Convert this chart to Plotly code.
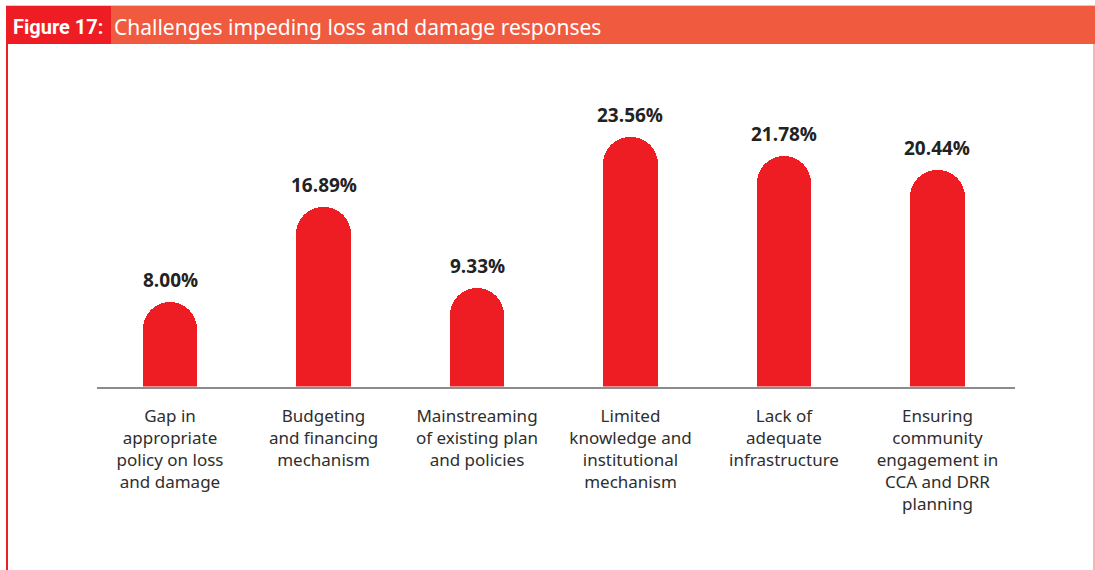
import plotly.graph_objects as go

# Challenges impeding loss and damage responses (share of responses, %)
categories = [
    "Gap in<br>appropriate<br>policy on loss<br>and damage",
    "Budgeting<br>and financing<br>mechanism",
    "Mainstreaming<br>of existing plan<br>and policies",
    "Limited<br>knowledge and<br>institutional<br>mechanism",
    "Lack of<br>adequate<br>infrastructure",
    "Ensuring<br>community<br>engagement in<br>CCA and DRR<br>planning",
]
values = [8.00, 16.89, 9.33, 23.56, 21.78, 20.44]

W, H = 1095, 570
RED = "#EE1D24"
ORANGE = "#F05A3F"
INK = "#222222"


def px_x(x):
    return x / W


def px_y(y):
    return 1 - y / H


fig = go.Figure()
fig.add_trace(
    go.Bar(
        x=categories,
        y=values,
        width=0.358,
        marker=dict(color=RED, line=dict(width=0), cornerradius="50%"),
        hoverinfo="skip",
        showlegend=False,
    )
)

# value labels above the bars
for c, v in zip(categories, values):
    fig.add_annotation(
        x=c, y=v, xref="x", yref="y",
        text=f"<b>{v:.2f}%</b>",
        showarrow=False, yanchor="bottom", yshift=7,
        font=dict(family="Open Sans", size=19, color=INK, weight=800),
    )

# header band and frame
shapes = [
    dict(type="rect", x0=px_x(6), x1=px_x(111), y0=px_y(44), y1=px_y(6),
         fillcolor=RED, line=dict(width=0)),
    dict(type="rect", x0=px_x(111), x1=1, y0=px_y(44), y1=px_y(6),
         fillcolor=ORANGE, line=dict(width=0)),
    dict(type="line", x0=px_x(6), x1=1, y0=px_y(5.5), y1=px_y(5.5),
         line=dict(color="#F7C2B6", width=1)),
    dict(type="line", x0=px_x(7), x1=px_x(7), y0=px_y(44), y1=0,
         line=dict(color=RED, width=2)),
    dict(type="line", x0=px_x(1094), x1=px_x(1094), y0=px_y(44), y1=0,
         line=dict(color="#F26A6A", width=1)),
]
for s in shapes:
    s.update(xref="paper", yref="paper", layer="below")

fig.add_annotation(
    x=px_x(11), y=px_y(27), xref="paper", yref="paper",
    xanchor="left", yanchor="middle", showarrow=False,
    text="<b>Figure 17:</b>",
    font=dict(family="Roboto", size=20, color="white"),
)
fig.add_annotation(
    x=px_x(112), y=px_y(27), xref="paper", yref="paper",
    xanchor="left", yanchor="middle", showarrow=False,
    text="Challenges impeding loss and damage responses",
    font=dict(family="Noto Sans", size=21, color="white"),
)

fig.update_layout(
    width=W, height=H,
    margin=dict(l=0, r=0, t=0, b=0),
    paper_bgcolor="white", plot_bgcolor="white",
    shapes=shapes,
    bargap=0,
    xaxis=dict(
        domain=[px_x(97), px_x(1015)],
        range=[-0.4756, 5.505],
        showline=True, linecolor="#8C8C8C", linewidth=1.5,
        showgrid=False, zeroline=False, ticks="",
        tickfont=dict(family="Noto Sans", size=17, color="#2E2E2E"),
        ticklabelstandoff=13,
        automargin=False,
    ),
    yaxis=dict(
        domain=[px_y(386.5), px_y(60)],
        range=[0, 30.8],
        visible=False,
    ),
)

fig.write_html("out.html")
